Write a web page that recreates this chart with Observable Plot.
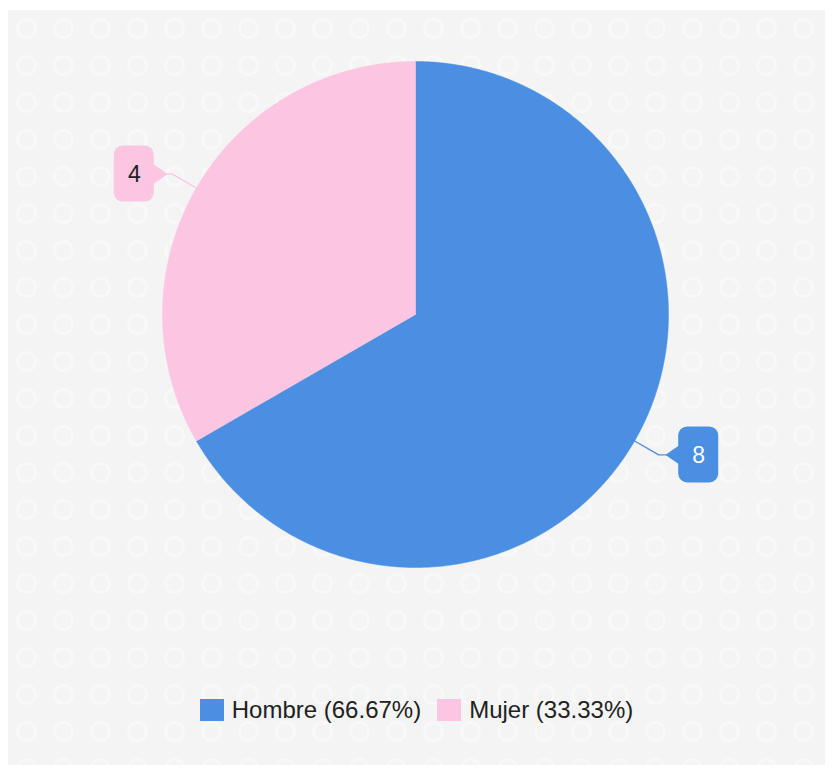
<!DOCTYPE html>
<html>
<head>
<meta charset="utf-8">
<script src="https://cdn.jsdelivr.net/npm/d3@7"></script>
<script src="https://cdn.jsdelivr.net/npm/@observablehq/plot@0.6"></script>
<style>
  html, body { margin: 0; padding: 0; background: #ffffff; }
  #panel {
    position: absolute; left: 8px; top: 10px; width: 817px; height: 755px;
    background-color: #f4f4f4;
    background-image:
      radial-gradient(circle at 50% 50%, transparent 7px, #f8f8f8 8px, #f8f8f8 10px, transparent 11px);
    background-size: 37px 37px;
    overflow: hidden;
  }
  #chart { position: absolute; left: -8px; top: -10px; width: 833px; }
  #chart svg { max-width: none; }
  #legend {
    position: absolute; left: -8px; top: 686px; width: 833px;
    display: flex; justify-content: center; align-items: center;
    font-family: "Liberation Sans", Arial, sans-serif; font-size: 24px; color: #222;
  }
  .item { display: flex; align-items: center; margin: 0 8px; }
  .sw { width: 24px; height: 22px; margin-right: 8px; display: inline-block; }
</style>
</head>
<body>
<div id="panel">
  <div id="chart"></div>
  <div id="legend"></div>
</div>
<script>
const categories = ["Hombre", "Mujer"];
const values = [8, 4];
const colors = ["#4a8fe2", "#fcc5e1"];
const labelColors = ["#ffffff", "#222222"];
const legendLabels = ["Hombre (66.67%)", "Mujer (33.33%)"];

const W = 833, H = 690;
const cx = 415, cy = 314, R = 253;

const pie = d3.pie().sort(null)(values);

// arc polygons in unit-circle data space (y up)
const arcPts = [];
pie.forEach((p, i) => {
  const n = Math.max(2, Math.ceil((p.endAngle - p.startAngle) / 0.01));
  arcPts.push({cat: categories[i], x: 0, y: 0});
  for (let k = 0; k <= n; k++) {
    const a = p.startAngle + (p.endAngle - p.startAngle) * k / n;
    arcPts.push({cat: categories[i], x: Math.sin(a), y: Math.cos(a)});
  }
  arcPts.push({cat: categories[i], x: 0, y: 0});
});

// callout labels
const lab = pie.map((p, i) => {
  const a = (p.startAngle + p.endAngle) / 2;
  const ex = Math.sin(a), ey = Math.cos(a);
  const right = ex > 0;
  const elbowX = ex * 1.11, elbowY = ey * 1.11;
  const tipX = right ? elbowX + 8 / R : elbowX - 6 / R;
  const boxW = 40 / R, boxH = 56 / R, ptr = 12 / R;
  const bx0 = right ? tipX + ptr : tipX - ptr - boxW;
  return {
    cat: categories[i], value: values[i], color: colors[i], tcolor: labelColors[i],
    ex, ey, elbowX, elbowY, tipX, tipY: elbowY,
    x1: bx0, x2: bx0 + boxW, y1: elbowY - boxH / 2, y2: elbowY + boxH / 2,
    right, ptr
  };
});

const leaderPts = [];
lab.forEach(d => {
  leaderPts.push({cat: d.cat, x: d.ex, y: d.ey});
  leaderPts.push({cat: d.cat, x: d.elbowX, y: d.elbowY});
  leaderPts.push({cat: d.cat, x: d.tipX, y: d.tipY});
});
const pointerPts = [];
lab.forEach(d => {
  const base = d.right ? d.x1 + 0.01 : d.x2 - 0.01;
  const ph = 10 / R;
  pointerPts.push({cat: d.cat, x: d.tipX, y: d.tipY});
  pointerPts.push({cat: d.cat, x: base, y: d.tipY + ph});
  pointerPts.push({cat: d.cat, x: base, y: d.tipY - ph});
  pointerPts.push({cat: d.cat, x: d.tipX, y: d.tipY});
});

const chart = Plot.plot({
  width: W, height: H,
  margin: 0,
  x: {domain: [-cx / R, (W - cx) / R], range: [0, W], axis: null},
  y: {domain: [-(H - cy) / R, cy / R], range: [H, 0], axis: null},
  color: {domain: categories, range: colors},
  style: {background: "transparent", fontFamily: "Liberation Sans, Arial, sans-serif"},
  marks: [
    Plot.line(arcPts, {x: "x", y: "y", z: "cat", fill: "cat", stroke: "cat", strokeWidth: 0.5, curve: "linear"}),
    Plot.line(leaderPts, {x: "x", y: "y", z: "cat", stroke: "cat", strokeWidth: 1.3}),
    Plot.line(pointerPts, {x: "x", y: "y", z: "cat", fill: "cat", stroke: "cat"}),
    Plot.rect(lab, {x1: "x1", x2: "x2", y1: "y1", y2: "y2", fill: "color", rx: 9}),
    Plot.text(lab, {x: d => (d.x1 + d.x2) / 2, y: "tipY", text: d => String(d.value), fill: "tcolor", fontSize: 23, dy: 1})
  ]
});
document.getElementById("chart").appendChild(chart);

const leg = document.getElementById("legend");
categories.forEach((c, i) => {
  const it = document.createElement("span");
  it.className = "item";
  const sw = document.createElement("span");
  sw.className = "sw";
  sw.style.background = colors[i];
  it.appendChild(sw);
  it.appendChild(document.createTextNode(legendLabels[i]));
  leg.appendChild(it);
});
</script>
</body>
</html>
